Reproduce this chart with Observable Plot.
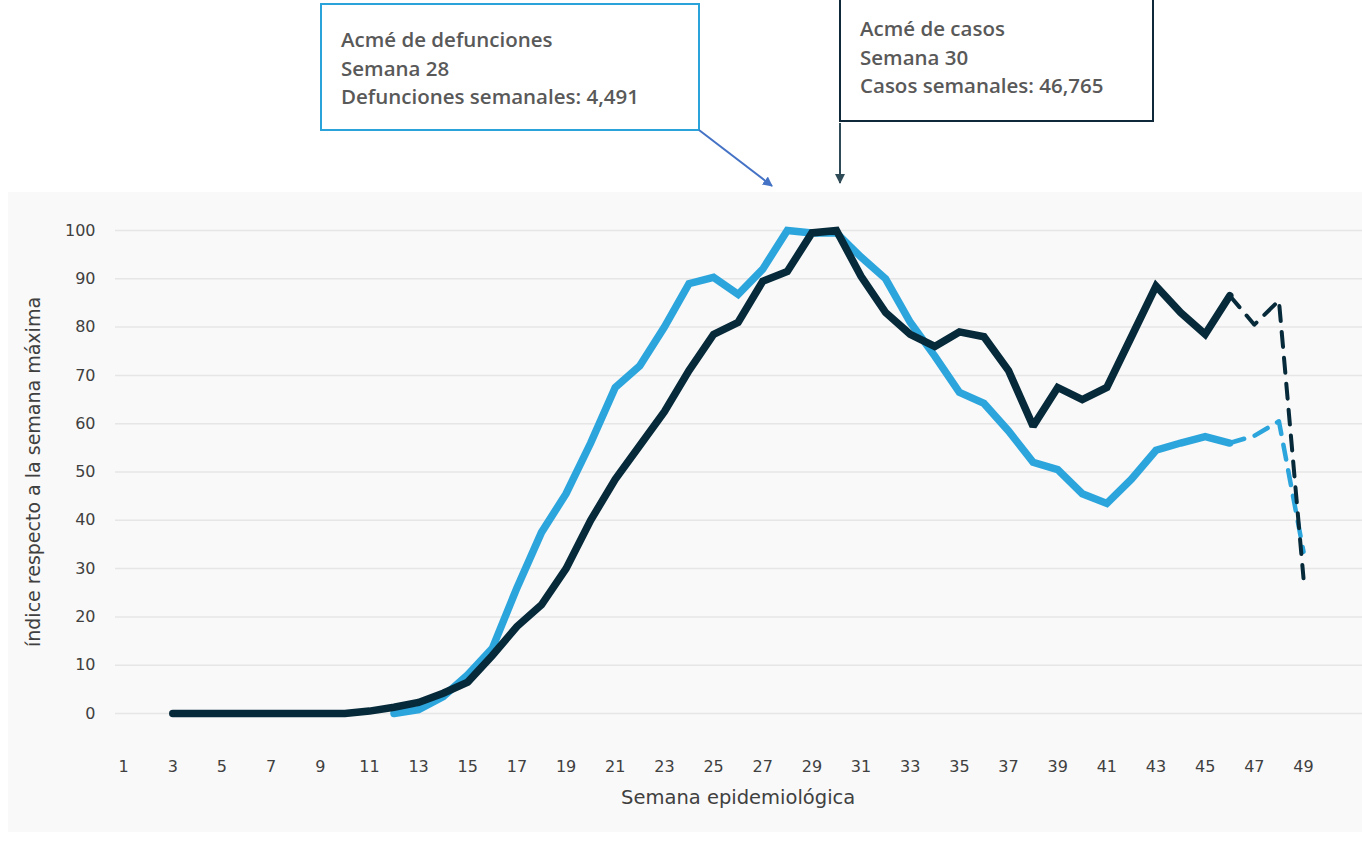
<!DOCTYPE html>
<html>
<head>
<meta charset="utf-8">
<script src="https://cdn.jsdelivr.net/npm/d3@7"></script>
<script src="https://cdn.jsdelivr.net/npm/@observablehq/plot@0.6"></script>
<style>
  html, body { margin: 0; padding: 0; background: #ffffff; }
  #wrap { position: relative; width: 1362px; height: 852px; overflow: hidden; font-family: "DejaVu Sans", sans-serif; }
  #chart { position: absolute; left: 8px; top: 192px; }
  .box { position: absolute; box-sizing: border-box; background: #ffffff; font-family: "Open Sans", Lato, sans-serif; font-weight: 600; font-size: 20.5px; line-height: 28.5px; color: #595959; }
  #box1 { left: 320px; top: 3px; width: 380px; height: 128px; border: 2px solid #2aa3db; padding: 20px 0 0 19px; }
  #box2 { left: 839px; top: -10px; width: 315px; height: 132px; border: 2px solid #10293a; padding: 22px 0 0 19px; }
  #arrows { position: absolute; left: 0; top: 0; }
</style>
</head>
<body>
<div id="wrap">
  <div id="chart"></div>
  <div class="box" id="box1">Acmé de defunciones<br>Semana 28<br>Defunciones semanales: 4,491</div>
  <div class="box" id="box2">Acmé de casos<br>Semana 30<br>Casos semanales: 46,765</div>
  <svg id="arrows" width="1362" height="200">
    <defs>
      <marker id="ahBlue" viewBox="0 0 10 10" refX="9" refY="5" markerWidth="5" markerHeight="5" orient="auto">
        <path d="M0,0 L10,5 L0,10 z" fill="#4472c4"/>
      </marker>
      <marker id="ahDark" viewBox="0 0 10 10" refX="9" refY="5" markerWidth="5.5" markerHeight="5" orient="auto">
        <path d="M0,0 L10,5 L0,10 z" fill="#2f4b57"/>
      </marker>
    </defs>
    <line x1="699" y1="130" x2="772" y2="186" stroke="#4472c4" stroke-width="2" marker-end="url(#ahBlue)"/>
    <line x1="840" y1="123" x2="840" y2="183" stroke="#2f4b57" stroke-width="2" marker-end="url(#ahDark)"/>
  </svg>
</div>
<script>
// Semanas epidemiológicas
const casosWeeks = [3,4,5,6,7,8,9,10,11,12,13,14,15,16,17,18,19,20,21,22,23,24,25,26,27,28,29,30,31,32,33,34,35,36,37,38,39,40,41,42,43,44,45,46];
const casosValues = [0,0,0,0,0,0,0,0,0.5,1.3,2.3,4.2,6.5,12,18,22.5,30,40,48.5,55.5,62.5,71,78.5,81,89.5,91.5,99.5,100,90.5,83,78.5,76,79,78,71,59.5,67.5,65,67.5,78,88.5,83,78.5,86.5];
const casosDashWeeks = [46,47,48,49];
const casosDashValues = [86.5,80.5,85.5,28];

const defWeeks = [12,13,14,15,16,17,18,19,20,21,22,23,24,25,26,27,28,29,30,31,32,33,34,35,36,37,38,39,40,41,42,43,44,45,46];
const defValues = [0,0.8,3.5,8,13.5,26,37.5,45.5,56,67.5,72,80,89,90.3,86.8,92,100,99.5,99.5,94.5,90,81,74,66.5,64.2,58.5,52,50.5,45.5,43.5,48.5,54.5,56,57.3,56];
const defDashWeeks = [46,47,48,49];
const defDashValues = [56,57.5,60.5,33.5];

const xTicks = [1,3,5,7,9,11,13,15,17,19,21,23,25,27,29,31,33,35,37,39,41,43,45,47,49];
const yTicks = [0,10,20,30,40,50,60,70,80,90,100];

const colCasos = "#062a3a";
const colDef = "#2ca5dd";

const casos = casosWeeks.map((w, i) => ({w, v: casosValues[i]}));
const casosDash = casosDashWeeks.map((w, i) => ({w, v: casosDashValues[i]}));
const def = defWeeks.map((w, i) => ({w, v: defValues[i]}));
const defDash = defDashWeeks.map((w, i) => ({w, v: defDashValues[i]}));

const chart = Plot.plot({
  width: 1354,
  height: 640,
  marginLeft: 107,
  marginRight: 0,
  marginTop: 38,
  marginBottom: 119,
  style: {background: "#f9f9f9", fontFamily: "DejaVu Sans, sans-serif", fontSize: "16px", color: "#404040"},
  x: {domain: [0.67, 51.4]},
  y: {domain: [0, 100]},
  marks: [
    Plot.ruleY(yTicks, {stroke: "#e6e6e6", strokeWidth: 1.5}),
    Plot.axisY(yTicks, {tickSize: 0, tickPadding: 20, label: null, fontSize: 16, fill: "#404040"}),
    Plot.axisX(xTicks, {tickSize: 0, tickPadding: 47, label: null, fontSize: 16, fill: "#404040"}),
    Plot.line(def, {x: "w", y: "v", stroke: colDef, strokeWidth: 7.5, strokeLinejoin: "miter", strokeMiterlimit: 2}),
    Plot.line(casos, {x: "w", y: "v", stroke: colCasos, strokeWidth: 7.5, strokeLinejoin: "miter", strokeMiterlimit: 2}),
    Plot.line(defDash, {x: "w", y: "v", stroke: colDef, strokeWidth: 4.5, strokeDasharray: "15,11"}),
    Plot.line(casosDash, {x: "w", y: "v", stroke: colCasos, strokeWidth: 4, strokeDasharray: "15,11"}),
    Plot.text(["Semana epidemiológica"], {x: 26, frameAnchor: "bottom", dy: 90, fontSize: 19.5, fill: "#404040"}),
    Plot.text(["índice respecto a la semana máxima"], {frameAnchor: "left", textAnchor: "middle", dx: -82, rotate: -90, fontSize: 19, fill: "#404040"})
  ]
});
document.getElementById("chart").appendChild(chart);
</script>
</body>
</html>
